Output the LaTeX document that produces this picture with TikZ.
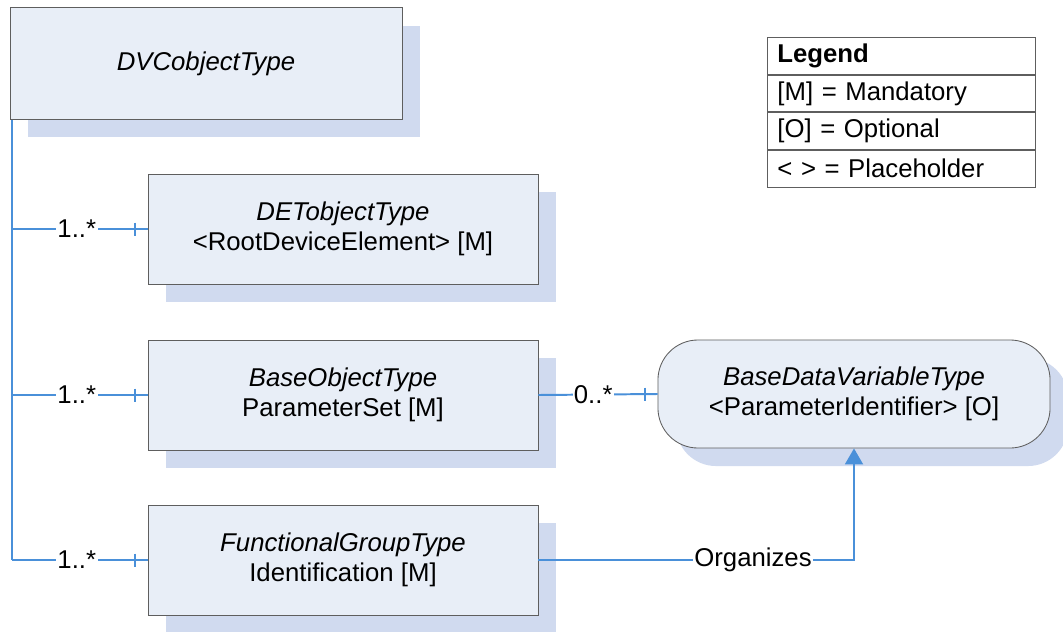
\documentclass[tikz,border=0pt]{standalone}
\usepackage{fontspec}
\setmainfont{Liberation Sans}
\usetikzlibrary{positioning,shadows,arrows.meta}

\definecolor{boxfill}{HTML}{E8EEF7}
\definecolor{boxshade}{HTML}{D0DAEF}
\definecolor{boxedge}{HTML}{5E5E5E}
\definecolor{linkblue}{HTML}{4A90D9}

\tikzset{
  objbox/.style={draw=boxedge, fill=boxfill, line width=0.6pt, align=center,
    minimum width=9.75cm, minimum height=2.75cm,
    drop shadow={shadow xshift=0.45cm, shadow yshift=-0.45cm, fill=boxshade, opacity=1}},
  conn/.style={draw=linkblue, line width=1.4pt},
  mult/.style={fill=white, inner sep=1pt},
  legrow/.style={draw=boxedge, fill=white, line width=0.6pt, align=left,
    text width=6.2cm, inner xsep=0.25cm, minimum height=0.92cm}
}

\begin{document}
\begin{tikzpicture}[x=0.025cm, y=-0.025cm, font=\fontsize{18.3pt}{21.5pt}\selectfont]
  \useasboundingbox (0,0) rectangle (1063,631);

  % object boxes
  \node[objbox, minimum width=9.8cm, minimum height=2.78cm] (dvc) at (206,63.5) {\textit{DVCobjectType}};
  \node[objbox] (det) at (343,229) {\textit{DETobjectType}\\ <RootDeviceElement> [M]};
  \node[objbox] (bot) at (343,395) {\textit{BaseObjectType}\\ ParameterSet [M]};
  \node[objbox] (fgt) at (343,560) {\textit{FunctionalGroupType}\\ Identification [M]};
  \node[objbox, rounded corners=1cm, minimum width=9.8cm, minimum height=2.7cm] (bdv) at (854,394)
    {\textit{BaseDataVariableType}\\ <ParameterIdentifier> [O]};

  % legend
  \node[legrow, anchor=north west] (leg) at (767,37) {\textbf{Legend}};
  \node[legrow, below=0pt of leg] (legm) {[M] = Mandatory};
  \node[legrow, below=0pt of legm] (lego) {[O] = Optional};
  \node[legrow, below=0pt of lego] (legp) {< > = Placeholder};

  % hierarchy links
  \draw[conn] ([xshift=0.05cm]dvc.south west) -- ([xshift=0.05cm]dvc.south west |- fgt.west);
  \draw[conn] ([xshift=0.05cm]dvc.south west |- det.west) -- node[mult, pos=0.48]{1..*} (det.west);
  \draw[conn] ([xshift=0.05cm]dvc.south west |- bot.west) -- node[mult, pos=0.48]{1..*} (bot.west);
  \draw[conn] ([xshift=0.05cm]dvc.south west |- fgt.west) -- node[mult, pos=0.48]{1..*} (fgt.west);
  \draw[conn] (det.west) ++(-13,-6.5) -- ++(0,13);
  \draw[conn] (bot.west) ++(-13,-6.5) -- ++(0,13);
  \draw[conn] (fgt.west) ++(-13,-6.5) -- ++(0,13);

  % variable links
  \draw[conn] (bot.east) -- node[mult, pos=0.46]{0..*} (bdv.west);
  \draw[conn] (bdv.west) ++(-13,-6.5) -- ++(0,13);
  \draw[conn, -{Triangle[width=0.45cm, length=0.4cm]}] (fgt.east)
    -- node[mult, pos=0.68]{Organizes} (fgt.east -| bdv.south) -- (bdv.south);
\end{tikzpicture}
\end{document}
